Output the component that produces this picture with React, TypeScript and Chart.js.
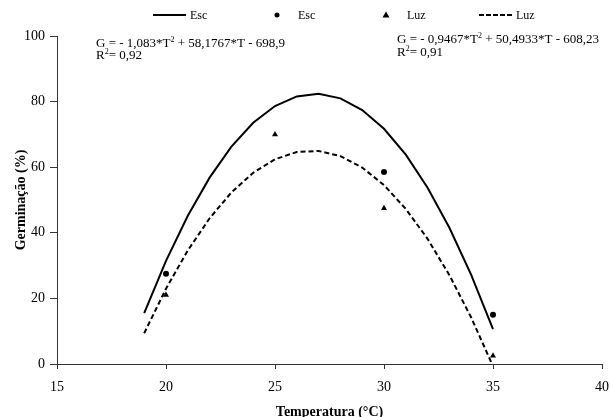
import React, { useEffect, useRef } from "react";
import { Chart, registerables } from "chart.js";

Chart.register(...registerables);

// Fitted curves (read at integer temperatures)
const fitT = [19, 20, 21, 22, 23, 24, 25, 26, 27, 28, 29, 30, 31, 32, 33, 34, 35];
const escFit = [15.49, 31.43, 45.21, 56.82, 66.26, 73.53, 78.64, 81.59, 82.36, 80.98, 77.42, 71.7, 63.82, 53.76, 41.54, 27.16, 10.61];
const luzFit = [9.38, 22.96, 34.63, 44.42, 52.31, 58.31, 62.42, 64.63, 64.95, 63.37, 59.9, 54.54, 47.28, 38.14, 27.09, 14.16, -0.67];

// Observed points
const escT = [20, 30, 35];
const escObs = [27.5, 58.5, 15];
const luzT = [20, 25, 30, 35];
const luzObs = [21, 70, 47.5, 2.5];

// Texts
const legendLabels = ["Esc", "Esc", "Luz", "Luz"];
const eq1 = ["G = - 1,083*T", "2", " + 58,1767*T - 698,9"];
const r1 = ["R", "2", "= 0,92"];
const eq2 = ["G = - 0,9467*T", "2", " + 50,4933*T - 608,23"];
const r2 = ["R", "2", "= 0,91"];
const xTitle = "Temperatura (°C)";
const yTitle = "Germinação (%)";

const SERIF = "'Liberation Serif', 'Times New Roman', serif";

function pts(xs: number[], ys: number[]) {
  return xs.map((x, i) => ({ x, y: ys[i] }));
}

function drawSup(ctx: CanvasRenderingContext2D, x: number, y: number, parts: string[]) {
  let cx = x;
  parts.forEach((p, i) => {
    const sup = i % 2 === 1;
    ctx.font = sup ? `8px ${SERIF}` : `13px ${SERIF}`;
    ctx.fillText(p, cx, sup ? y - 5 : y);
    cx += ctx.measureText(p).width;
  });
}

export default function App() {
  const ref = useRef<HTMLCanvasElement>(null);

  useEffect(() => {
    const ctx = ref.current!.getContext("2d")!;
    const overlay = {
      id: "overlay",
      afterDraw(chart: any) {
        const c: CanvasRenderingContext2D = chart.ctx;
        c.save();
        c.fillStyle = "#000";
        c.strokeStyle = "#000";
        c.textBaseline = "alphabetic";
        c.textAlign = "left";
        // equations
        drawSup(c, 96, 47, eq1);
        drawSup(c, 96, 59, r1);
        drawSup(c, 397, 43, eq2);
        drawSup(c, 397, 56, r2);
        // legend
        const ly = 15;
        c.font = `12px ${SERIF}`;
        c.textBaseline = "middle";
        c.lineWidth = 2;
        c.beginPath();
        c.moveTo(153, ly);
        c.lineTo(186, ly);
        c.stroke();
        c.fillText(legendLabels[0], 190, ly + 1);
        c.beginPath();
        c.arc(277, ly, 2.5, 0, Math.PI * 2);
        c.fill();
        c.fillText(legendLabels[1], 298, ly + 1);
        c.beginPath();
        c.moveTo(386, ly - 3.5);
        c.lineTo(389.5, ly + 2.5);
        c.lineTo(382.5, ly + 2.5);
        c.closePath();
        c.fill();
        c.fillText(legendLabels[2], 407, ly + 1);
        c.setLineDash([5, 2]);
        c.beginPath();
        c.moveTo(479, ly);
        c.lineTo(512, ly);
        c.stroke();
        c.setLineDash([]);
        c.fillText(legendLabels[3], 516, ly + 1);
        c.restore();
      },
    };

    const tickFont = { family: SERIF, size: 14 };
    const titleFont = { family: SERIF, size: 14, weight: "bold" as const };

    const chart = new Chart(ctx, {
      type: "scatter",
      data: {
        datasets: [
          {
            label: "Esc",
            data: pts(fitT, escFit),
            showLine: true,
            borderColor: "#000",
            borderWidth: 2,
            pointRadius: 0,
            tension: 0,
          },
          {
            label: "Esc",
            data: pts(escT, escObs),
            showLine: false,
            pointStyle: "circle",
            pointRadius: 3,
            backgroundColor: "#000",
            borderColor: "#000",
            borderWidth: 0,
          },
          {
            label: "Luz",
            data: pts(luzT, luzObs),
            showLine: false,
            pointStyle: "triangle",
            pointRadius: 3.5,
            backgroundColor: "#000",
            borderColor: "#000",
            borderWidth: 0,
          },
          {
            label: "Luz",
            data: pts(fitT, luzFit),
            showLine: true,
            borderColor: "#000",
            borderWidth: 2,
            borderDash: [5, 3],
            pointRadius: 0,
            tension: 0,
          },
        ],
      },
      options: {
        animation: false,
        responsive: false,
        maintainAspectRatio: false,
        layout: { padding: { top: 36, right: 8, left: 0, bottom: 0 } },
        plugins: { legend: { display: false }, tooltip: { enabled: false } },
        scales: {
          x: {
            type: "linear",
            min: 15,
            max: 40,
            ticks: { stepSize: 5, font: tickFont, color: "#000", padding: 10, maxRotation: 0 },
            grid: { drawOnChartArea: false, drawTicks: true, tickLength: 5, color: "#333" },
            border: { color: "#333", width: 1 },
            title: { display: true, text: xTitle, font: titleFont, color: "#000", padding: { top: 0, bottom: -4 } },
            afterFit: (s: any) => {
              s.height = 53;
              s.paddingRight = 0;
              s.paddingLeft = 0;
            },
          },
          y: {
            min: 0,
            max: 100,
            ticks: { stepSize: 20, font: tickFont, color: "#000", padding: 5 },
            grid: { drawOnChartArea: false, drawTicks: true, tickLength: 7, color: "#333" },
            border: { color: "#333", width: 1 },
            title: { display: true, text: yTitle, font: titleFont, color: "#000", padding: { top: 13, bottom: 0 } },
            afterFit: (s: any) => {
              s.width = 57;
              s.paddingTop = 0;
              s.paddingBottom = 0;
            },
          },
        },
      },
      plugins: [overlay],
    });
    return () => chart.destroy();
  }, []);

  return (
    <div style={{ position: "fixed", left: 0, top: 0, width: 610, height: 417, background: "#fff" }}>
      <canvas ref={ref} width={610} height={417} style={{ display: "block", width: 610, height: 417 }} />
    </div>
  );
}
